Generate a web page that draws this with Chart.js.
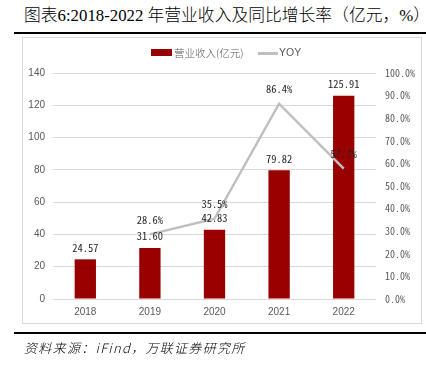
<!DOCTYPE html>
<html>
<head>
<meta charset="utf-8">
<script src="https://cdn.jsdelivr.net/npm/chart.js@4.4.0/dist/chart.umd.min.js"></script>
<style>
  html, body { margin: 0; padding: 0; background: #fff; }
  body { width: 426px; height: 367px; position: relative; overflow: hidden; }
  #title { position: absolute; left: 24px; top: 6px; font-family: "Liberation Serif", "Noto Sans CJK SC", serif; font-weight: 300; font-size: 16.8px; line-height: 20px; color: #000; white-space: nowrap; }
  .rule { position: absolute; left: 14px; width: 412px; height: 2px; background: #000; }
  #box { position: absolute; left: 22px; top: 37px; width: 400px; height: 287px; border: 1px solid #D9D9D9; box-sizing: border-box; }
  #c { position: absolute; left: 0; top: 0; }
  #legend { position: absolute; top: 45px; left: 151px; height: 15px; font-family: "Noto Sans CJK SC", sans-serif; font-weight: 300; font-size: 10.5px; letter-spacing: 0; color: #595959; white-space: nowrap; }
  #legend span { position: absolute; top: 0; line-height: 15px; }
  #src { position: absolute; left: 24px; top: 339px; font-family: "Noto Sans CJK SC", sans-serif; font-weight: 300; font-style: italic; font-size: 13px; letter-spacing: 1.3px; line-height: 18px; color: #000; white-space: nowrap; }
</style>
</head>
<body>
<div id="title">图表6:2018-2022 年营业收入及同比增长率（亿元，%）</div>
<div class="rule" style="top:32px"></div>
<div id="box"></div>
<canvas id="c" width="426" height="367"></canvas>
<div id="legend">
  <span style="left:0;top:4px;width:21px;height:7px;background:#990000"></span>
  <span id="lg1" style="left:23px">营业收入(亿元)</span>
  <span style="left:107px;top:7px;width:20px;height:2.5px;background:#BFBFBF"></span>
  <span id="lg2" style="left:128px;font-family:'Liberation Sans',sans-serif">YOY</span>
</div>
<div class="rule" style="top:332px"></div>
<div id="src">资料来源：iFind，万联证券研究所</div>
<script>
const categories = ['2018', '2019', '2020', '2021', '2022'];
const revenue = [24.57, 31.60, 42.83, 79.82, 125.91];
const yoy = [null, 28.6, 35.5, 86.4, 57.7];
const seriesNames = ['营业收入(亿元)', 'YOY'];
const leftMax = 140, leftStep = 20;
const rightMax = 100, rightStep = 10;

const monoFont = '"Noto Sans Mono CJK SC", "Liberation Mono", monospace';

const labelPlugin = {
  id: 'valueLabels',
  afterDatasetsDraw(chart) {
    const ctx = chart.ctx;
    ctx.save();
    ctx.font = '10.5px ' + monoFont;
    ctx.fillStyle = '#262626';
    ctx.textAlign = 'center';
    ctx.textBaseline = 'middle';
    chart.data.datasets.forEach((ds, di) => {
      const meta = chart.getDatasetMeta(di);
      meta.data.forEach((el, i) => {
        const v = ds.data[i];
        if (v === null || v === undefined) return;
        if (ds.type === 'bar') {
          ctx.fillText(v.toFixed(2), el.x, el.y - 11.5);
        } else {
          ctx.fillText(v.toFixed(1) + '%', el.x, el.y - 14.5);
        }
      });
    });
    ctx.restore();
  }
};

new Chart(document.getElementById('c'), {
  data: {
    labels: categories,
    datasets: [
      {
        type: 'bar',
        label: seriesNames[0],
        data: revenue,
        backgroundColor: '#990000',
        yAxisID: 'y',
        order: 1,
        categoryPercentage: 1,
        barPercentage: 0.33
      },
      {
        type: 'line',
        label: seriesNames[1],
        data: yoy,
        borderColor: '#BFBFBF',
        borderWidth: 2.5,
        pointRadius: 0,
        tension: 0,
        fill: false,
        yAxisID: 'y1',
        order: 0
      }
    ]
  },
  options: {
    responsive: false,
    devicePixelRatio: 1,
    animation: false,
    layout: { padding: { left: 22, right: 4, top: 73, bottom: 43 } },
    plugins: { legend: { display: false }, tooltip: { enabled: false } },
    scales: {
      x: {
        grid: { display: false, drawTicks: false },
        border: { display: false },
        ticks: { color: '#595959', font: { family: 'Liberation Sans', size: 10 }, padding: 7 },
        afterFit(s) { s.height = 25; }
      },
      y: {
        position: 'left',
        min: 0, max: leftMax,
        ticks: { stepSize: leftStep, color: '#595959', font: { family: 'Liberation Sans', size: 10 }, padding: 8 },
        grid: { color: '#D9D9D9', lineWidth: 1, drawTicks: false },
        border: { display: false },
        afterFit(s) { s.width = 31; }
      },
      y1: {
        position: 'right',
        min: 0, max: rightMax,
        ticks: { stepSize: rightStep, color: '#595959', font: { family: '"Noto Sans Mono CJK SC", "Liberation Mono", monospace', size: 10 }, padding: 9, callback: v => v.toFixed(1) + '%' },
        grid: { display: false, drawTicks: false },
        border: { display: false },
        afterFit(s) { s.width = 46; }
      }
    }
  },
  plugins: [labelPlugin]
});
</script>
</body>
</html>
